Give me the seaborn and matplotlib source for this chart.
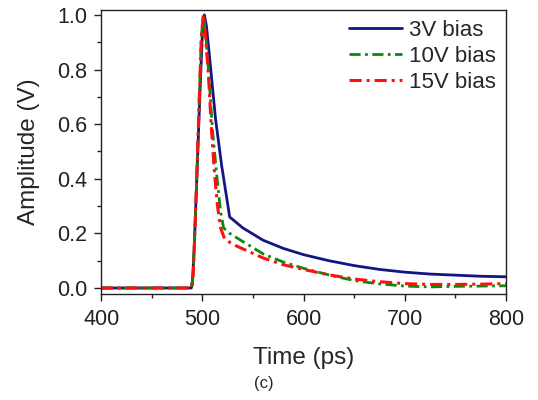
import matplotlib
matplotlib.use("Agg")
import matplotlib.pyplot as plt
import seaborn as sns
import pandas as pd
from matplotlib.ticker import MultipleLocator

# ---- data ----
t_3v = [400, 489, 490, 492, 495, 498, 500, 502, 504, 507, 513, 519, 527,
        540, 560, 580, 600, 625, 650, 675, 700, 725, 750, 775, 800]
a_3v = [0.0, 0.0, 0.01, 0.15, 0.45, 0.75, 0.93, 1.0, 0.96, 0.85, 0.62, 0.45, 0.26,
        0.22, 0.175, 0.145, 0.122, 0.100, 0.082, 0.068, 0.058, 0.051, 0.047, 0.043, 0.041]

t_10v = [400, 489, 491, 494, 497, 499, 501, 503, 506, 510, 514, 518, 521,
         527, 540, 560, 580, 600, 625, 650, 675, 700, 725, 750, 775, 800]
a_10v = [0.0, 0.0, 0.05, 0.35, 0.70, 0.92, 1.0, 0.95, 0.80, 0.58, 0.42, 0.28, 0.22,
         0.20, 0.17, 0.125, 0.095, 0.072, 0.048, 0.027, 0.015, 0.007, 0.004, 0.006, 0.007, 0.008]

t_15v = [400, 489, 491, 494, 497, 499, 501, 503, 506, 509, 512, 515, 518,
         522, 530, 545, 560, 580, 600, 625, 650, 675, 700, 725, 750, 775, 800]
a_15v = [0.0, 0.0, 0.05, 0.35, 0.70, 0.92, 1.0, 0.93, 0.78, 0.58, 0.42, 0.30, 0.22,
         0.18, 0.16, 0.135, 0.11, 0.085, 0.068, 0.048, 0.033, 0.023, 0.016, 0.013, 0.013, 0.014, 0.016]

labels = ["3V bias", "10V bias", "15V bias"]
x_ticks = [400, 500, 600, 700, 800]
y_ticks = [0.0, 0.2, 0.4, 0.6, 0.8, 1.0]

sns.set_style("ticks")
plt.rcParams['font.family'] = ['Liberation Sans', 'DejaVu Sans']
plt.rcParams['xtick.direction'] = 'out'
plt.rcParams['ytick.direction'] = 'out'

fig = plt.figure(figsize=(5.38, 4.0), dpi=100)
ax = fig.add_axes([0.188, 0.265, 0.7525, 0.71])

sns.lineplot(x=t_3v, y=a_3v, ax=ax, color='#141485', linewidth=2.0,
             label=labels[0], linestyle='-')
sns.lineplot(x=t_10v, y=a_10v, ax=ax, color='#0a8a0a', linewidth=2.0,
             label=labels[1], linestyle=(0, (4, 1.6, 1, 1.6)))
sns.lineplot(x=t_15v, y=a_15v, ax=ax, color='#ff1010', linewidth=2.2,
             label=labels[2], linestyle=(0, (4, 1.6, 1, 1.6)))

ax.set_xlim(400, 800)
ax.set_ylim(-0.022, 1.018)
ax.set_xticks(x_ticks)
ax.set_yticks(y_ticks)
ax.set_xticklabels([str(v) for v in x_ticks])
ax.set_yticklabels([f"{v:.1f}" for v in y_ticks])
ax.xaxis.set_minor_locator(MultipleLocator(50))
ax.yaxis.set_minor_locator(MultipleLocator(0.1))
ax.tick_params(which='major', length=5, width=1.0, labelsize=15.5,
               colors='#222222')
ax.tick_params(axis='x', which='major', pad=6)
ax.tick_params(axis='y', which='major', pad=5)
ax.tick_params(which='minor', length=3, width=1.0, colors='#222222')
for sp in ax.spines.values():
    sp.set_linewidth(1.0)
    sp.set_color('#222222')
    sp.set_visible(True)

ax.set_xlabel("Time (ps)", fontsize=17.5, labelpad=12)
ax.set_ylabel("Amplitude (V)", fontsize=17.5, labelpad=12)

leg = ax.legend(loc='upper right', frameon=False, fontsize=16,
                handlelength=2.4, handletextpad=0.3, labelspacing=0.22,
                borderaxespad=0.0, borderpad=0.45)

fig.text(0.49, 0.042, "(c)", ha='center', va='center', fontsize=12)

fig.savefig("out.png", dpi=100)
